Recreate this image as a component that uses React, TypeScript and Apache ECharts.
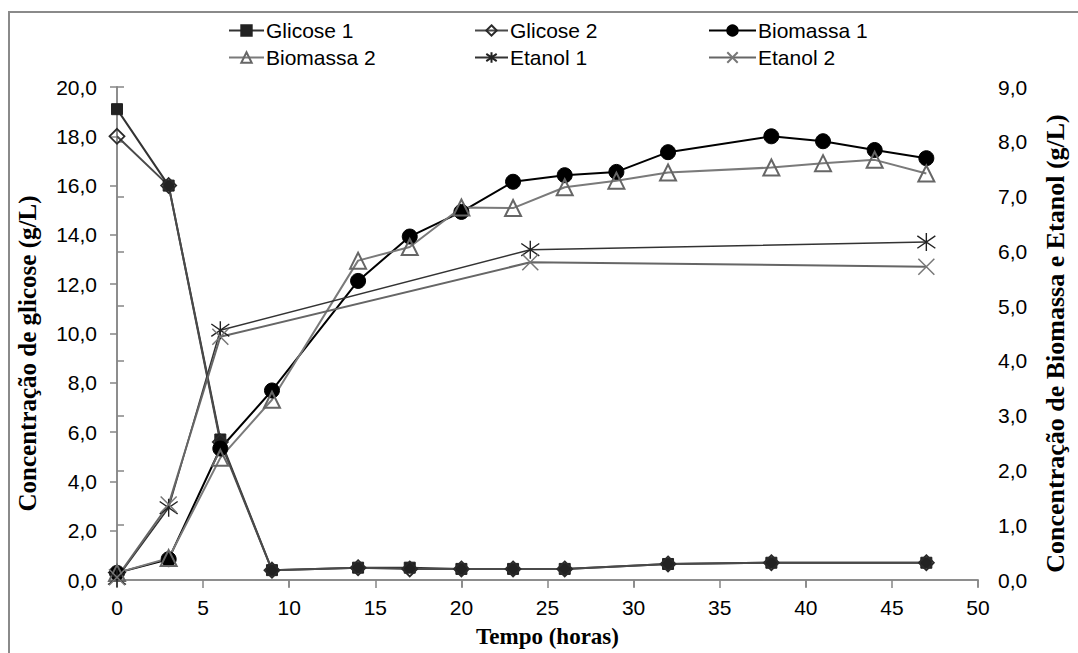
import React, { useEffect, useRef } from "react";
import * as echarts from "echarts";

const tempoGlicose = [0, 3, 6, 9, 14, 17, 20, 23, 26, 32, 38, 47];
const glicose1 = [19.1, 16.0, 5.7, 0.4, 0.5, 0.5, 0.45, 0.45, 0.45, 0.65, 0.7, 0.7];
const glicose2 = [18.0, 16.0, 5.6, 0.4, 0.5, 0.45, 0.45, 0.45, 0.45, 0.65, 0.7, 0.7];

const tempoBiomassa = [0, 3, 6, 9, 14, 17, 20, 23, 26, 29, 32, 38, 41, 44, 47];
const biomassa1 = [0.13, 0.38, 2.4, 3.46, 5.46, 6.27, 6.72, 7.27, 7.39, 7.45, 7.81, 8.1, 8.01, 7.85, 7.7];
const biomassa2 = [0.13, 0.4, 2.23, 3.29, 5.83, 6.08, 6.8, 6.79, 7.17, 7.29, 7.44, 7.53, 7.61, 7.67, 7.42];

const tempoEtanol = [0, 3, 6, 24, 47];
const etanol1 = [0.03, 1.32, 4.56, 6.03, 6.17];
const etanol2 = [0.05, 1.38, 4.44, 5.8, 5.72];

const seriesNames = ["Glicose 1", "Glicose 2", "Biomassa 1", "Biomassa 2", "Etanol 1", "Etanol 2"];

const xTitle = "Tempo (horas)";
const yLeftTitle = "Concentração de glicose (g/L)";
const yRightTitle = "Concentração de Biomassa e Etanol (g/L)";

const pairs = (xs: number[], ys: number[]) => xs.map((x, i) => [x, ys[i]]);
const fmt = (v: number) => v.toFixed(1).replace(".", ",");

const SANS = "Liberation Sans";
const SERIF = "Liberation Serif";
const AXIS_COLOR = "#868686";

const starPath = "path://M8,0L8,16M1.5,2.5L14.5,13.5M1.5,13.5L14.5,2.5";
const xPath = "path://M0,0L16,16M0,16L16,0";

export default function App() {
  const ref = useRef<HTMLDivElement>(null);
  useEffect(() => {
    document.body.style.margin = "0";
    const chart = echarts.init(ref.current!, null, { renderer: "svg" });
    // [left, top, itemWidth]
    const legendPos = [
      [228, 20, 35],
      [474, 20, 33],
      [708, 20, 47],
      [228, 47, 35],
      [474, 47, 33],
      [708, 47, 47],
    ];
    const option: any = {
      animation: false,
      backgroundColor: "#fff",
      graphic: [
        {
          type: "rect",
          silent: true,
          shape: { x: 9, y: 12, width: 1200, height: 800 },
          style: { fill: "none", stroke: "#8a8a8a", lineWidth: 2 },
        },
      ],
      legend: seriesNames.map((n, i) => ({
        data: [n],
        left: legendPos[i][0],
        top: legendPos[i][1],
        padding: 0,
        itemWidth: legendPos[i][2],
        itemHeight: 13,
        itemGap: 0,
        selectedMode: false,
        textStyle: { fontFamily: SANS, fontSize: 21, color: "#000", padding: [0, 0, 0, -3] },
      })),
      grid: { left: 117, right: 100, top: 87, bottom: 73, outerBoundsMode: "none", containLabel: false },
      xAxis: [
        {
          type: "value",
          min: 0,
          max: 50,
          interval: 5,
          name: xTitle,
          nameLocation: "middle",
          nameGap: 45,
          nameTextStyle: { fontFamily: SERIF, fontWeight: "bold", fontSize: 23, color: "#000" },
          axisLine: { lineStyle: { color: AXIS_COLOR, width: 1.5 } },
          axisTick: { length: 8, lineStyle: { color: AXIS_COLOR, width: 1.5 } },
          axisLabel: { fontFamily: SANS, fontSize: 21, color: "#000", margin: 17 },
          splitLine: { show: false },
        },
        {
          type: "value",
          position: "top",
          min: 0,
          max: 50,
          interval: 10,
          axisLine: { lineStyle: { color: AXIS_COLOR, width: 1.5 } },
          axisTick: { inside: true, length: 7, lineStyle: { color: AXIS_COLOR, width: 1.5 } },
          axisLabel: { show: false },
          splitLine: { show: false },
        },
      ],
      yAxis: [
        {
          type: "value",
          min: 0,
          max: 20,
          interval: 2,
          name: yLeftTitle,
          nameLocation: "middle",
          nameGap: 77,
          nameTextStyle: {
            fontFamily: SERIF,
            fontWeight: "bold",
            fontSize: 25,
            color: "#000",
            padding: [0, 40, 0, 0],
          },
          axisLine: { show: true, lineStyle: { color: AXIS_COLOR, width: 1.5 } },
          axisTick: { show: true, length: 7, lineStyle: { color: AXIS_COLOR, width: 1.5 } },
          axisLabel: { fontFamily: SANS, fontSize: 21, color: "#000", margin: 20, formatter: fmt },
          splitLine: { show: false },
        },
        {
          type: "value",
          min: 0,
          max: 9,
          interval: 1,
          position: "right",
          name: yRightTitle,
          nameLocation: "middle",
          nameGap: 64,
          nameTextStyle: {
            fontFamily: SERIF,
            fontWeight: "bold",
            fontSize: 26,
            color: "#000",
            padding: [0, 20, 0, 0],
          },
          axisLine: { show: true, lineStyle: { color: AXIS_COLOR, width: 1.5 } },
          axisTick: { show: true, length: 7, lineStyle: { color: AXIS_COLOR, width: 1.5 } },
          axisLabel: { fontFamily: SANS, fontSize: 21, color: "#000", margin: 20, formatter: fmt },
          splitLine: { show: false },
        },
      ],
      series: [
        {
          name: "Glicose 1",
          type: "line",
          yAxisIndex: 0,
          data: pairs(tempoGlicose, glicose1),
          symbol: "rect",
          symbolSize: 11,
          lineStyle: { color: "#333", width: 2 },
          itemStyle: { color: "#222", borderColor: "#222", borderWidth: 1 },
        },
        {
          name: "Glicose 2",
          type: "line",
          yAxisIndex: 0,
          data: pairs(tempoGlicose, glicose2),
          symbol: "diamond",
          symbolSize: 15,
          lineStyle: { color: "#4a4a4a", width: 2 },
          itemStyle: { color: "rgba(0,0,0,0)", borderColor: "#2a2a2a", borderWidth: 1.8 },
        },
        {
          name: "Biomassa 1",
          type: "line",
          yAxisIndex: 1,
          data: pairs(tempoBiomassa, biomassa1),
          symbol: "circle",
          symbolSize: 15,
          lineStyle: { color: "#000", width: 2 },
          itemStyle: { color: "#000", borderColor: "#000", borderWidth: 1 },
        },
        {
          name: "Biomassa 2",
          type: "line",
          yAxisIndex: 1,
          data: pairs(tempoBiomassa, biomassa2),
          symbol: "triangle",
          symbolSize: 16,
          lineStyle: { color: "#7a7a7a", width: 2 },
          itemStyle: { color: "rgba(0,0,0,0)", borderColor: "#666", borderWidth: 2 },
        },
        {
          name: "Etanol 1",
          type: "line",
          yAxisIndex: 1,
          data: pairs(tempoEtanol, etanol1),
          symbol: starPath,
          symbolSize: 18,
          lineStyle: { color: "#333", width: 1.5 },
          itemStyle: { color: "rgba(0,0,0,0)", borderColor: "#222", borderWidth: 1.4 },
        },
        {
          name: "Etanol 2",
          type: "line",
          yAxisIndex: 1,
          data: pairs(tempoEtanol, etanol2),
          symbol: xPath,
          symbolSize: 16,
          lineStyle: { color: "#666", width: 2 },
          itemStyle: { color: "rgba(0,0,0,0)", borderColor: "#777", borderWidth: 1.5 },
        },
      ],
    };
    chart.setOption(option);
    return () => chart.dispose();
  }, []);
  return <div ref={ref} style={{ width: 1078, height: 653 }} />;
}
